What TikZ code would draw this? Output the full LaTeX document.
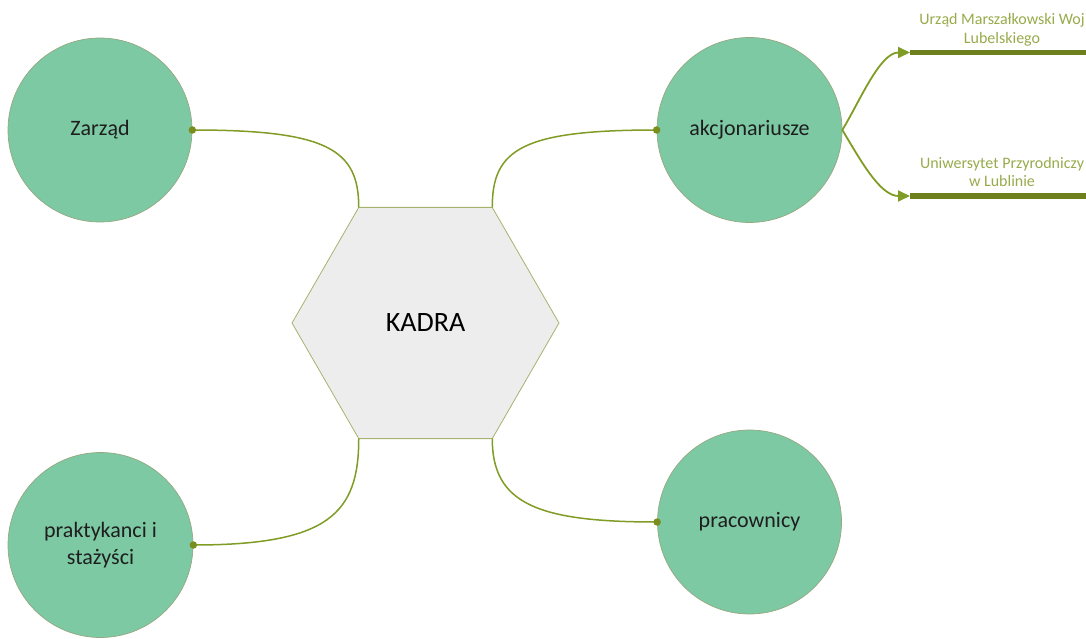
\documentclass[tikz,border=0pt]{standalone}
\usepackage{fontspec}
\setmainfont{Carlito}
\usetikzlibrary{shapes.geometric,arrows.meta}

\definecolor{circfill}{RGB}{124,201,164}
\definecolor{circline}{RGB}{150,168,128}
\definecolor{hexfill}{RGB}{237,237,237}
\definecolor{hexline}{RGB}{168,178,110}
\definecolor{linkcol}{RGB}{128,156,36}
\definecolor{dotcol}{RGB}{122,142,32}
\definecolor{barcol}{RGB}{110,128,30}
\definecolor{labelcol}{RGB}{152,170,75}
\definecolor{textcol}{RGB}{30,30,30}

\tikzset{
  member/.style={circle, fill=circfill, draw=circline, line width=0.7pt,
    minimum size=#1, inner sep=0pt, align=center, text=textcol,
    font=\fontsize{22}{27}\selectfont},
  member/.default=184pt,
  hub/.style={regular polygon, regular polygon sides=6, minimum size=267pt,
    inner sep=0pt, outer sep=0pt, fill=hexfill, draw=hexline, line width=0.8pt,
    text=black, font=\fontsize{28}{32}\selectfont},
  link/.style={draw=linkcol, line width=1.5pt},
  enddot/.style={circle, fill=dotcol, inner sep=0pt, minimum size=7.5pt},
  branch/.style={draw=linkcol, line width=1.8pt,
    -{Triangle[length=12pt,width=11pt]}},
  bar/.style={draw=barcol, line width=5pt},
  partner/.style={align=center, text=labelcol, inner sep=0pt,
    font=\fontsize{16}{18.5}\selectfont}
}

\begin{document}
\begin{tikzpicture}[x=1pt,y=-1pt]
  \useasboundingbox (0,0) rectangle (1086,639);

  % central hexagon
  \node[hub] (hex) at (425.5,323) {KADRA};

  % member circles
  \node[member] (zar) at (100,130) {Zarząd};
  \node[member=185pt] (akc) at (749.5,130) {akcjonariusze};
  \node[member=185pt] (pra) at (100.5,545) {praktykanci i\\stażyści};
  \node[member] (prc) at (749.5,522) {pracownicy};

  % links from the hexagon corners to the circles
  \draw[link] (zar.east) .. controls +(135,0) and +(0,-58) .. (hex.120);
  \draw[link] (hex.60) .. controls +(0,-58) and +(-135,0) .. (akc.west);
  \draw[link] (hex.240) .. controls +(0,75) and +(135,0) .. (pra.east);
  \draw[link] (hex.300) .. controls +(0,65) and +(-120,0) .. (prc.west);

  \node[enddot] (d1) at (zar.east) {};
  \node[enddot] (d2) at (akc.west) {};
  \node[enddot] (d3) at (pra.east) {};
  \node[enddot] (d4) at (prc.west) {};

  % shareholders
  \coordinate (u1) at (910,52.5);
  \coordinate (u1e) at (1086,52.5);
  \coordinate (u2) at (910,196);
  \coordinate (u2e) at (1086,196);

  \draw[bar] (u1) -- (u1e);
  \draw[bar] (u2) -- (u2e);
  \draw[branch] (akc.east) .. controls +(18,-30) and +(-30,0) .. (u1);
  \draw[branch] (akc.east) .. controls +(18,30) and +(-30,0) .. (u2);

  \node[partner] (p1) at (1002,30) {Urząd Marszałkowski Woj\\Lubelskiego};
  \node[partner] (p2) at (1002,172) {Uniwersytet Przyrodniczy\\w Lublinie};
\end{tikzpicture}
\end{document}
